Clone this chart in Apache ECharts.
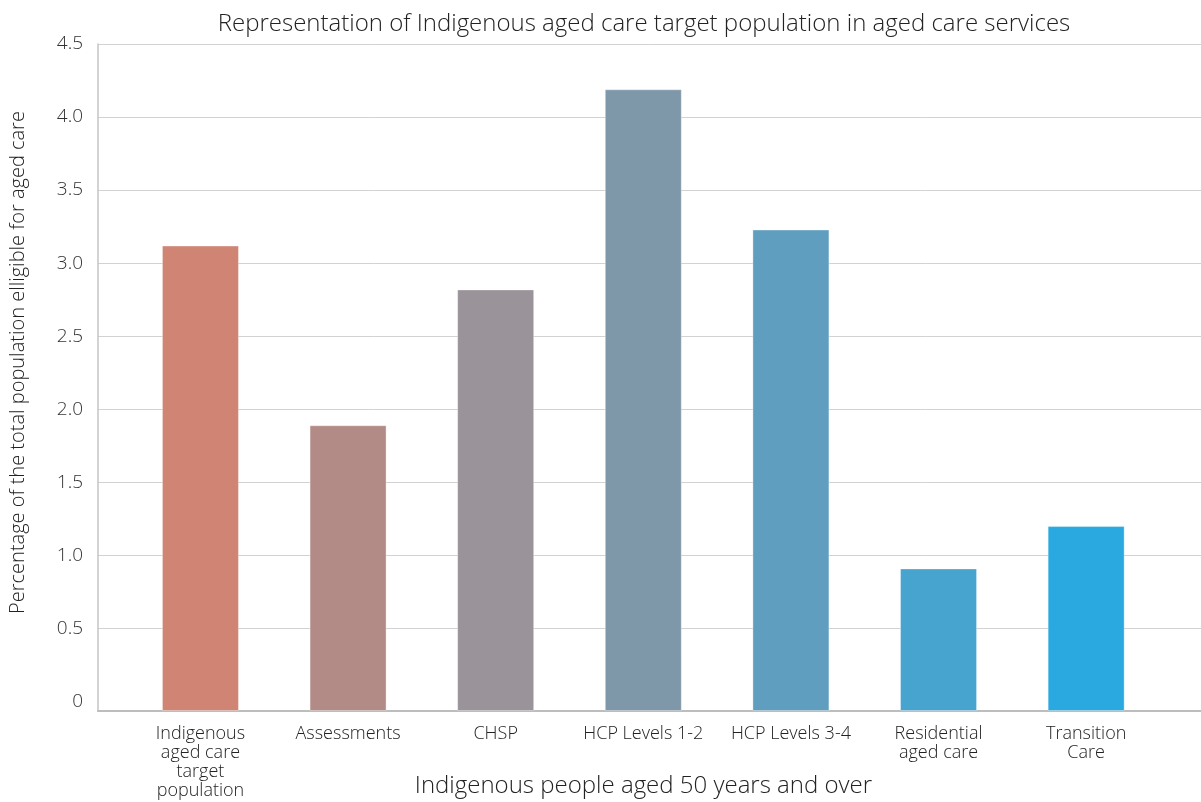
<!DOCTYPE html>
<html>
<head>
<meta charset="utf-8">
<script src="https://cdn.jsdelivr.net/npm/echarts@6/dist/echarts.min.js"></script>
<style>html,body{margin:0;padding:0;background:#fff}#c{width:1201px;height:802px}</style>
</head>
<body>
<div id="c"></div>
<script>
const categories = [
  'Indigenous\naged care\ntarget\npopulation',
  'Assessments',
  'CHSP',
  'HCP Levels 1-2',
  'HCP Levels 3-4',
  'Residential\naged care',
  'Transition\nCare'
];
const values = [3.12, 1.89, 2.82, 4.19, 3.23, 0.91, 1.20];
const barColors = ['#CF8474', '#B38B86', '#9A9399', '#7E97A9', '#5F9EBF', '#47A4CF', '#2AA9E0'];
const yTickValues = [0, 0.5, 1.0, 1.5, 2.0, 2.5, 3.0, 3.5, 4.0, 4.5];
const yTickLabels = ['0', '0.5', '1.0', '1.5', '2.0', '2.5', '3.0', '3.5', '4.0', '4.5'];
const yGridValues = yTickValues.filter(v => v > 0);
const categoryIndex = categories.map((c, i) => i);

const FONT = '"Open Sans", Lato, sans-serif';
const chart = echarts.init(document.getElementById('c'), null, {renderer: 'canvas'});
chart.setOption({
  backgroundColor: '#ffffff',
  animation: false,
  title: {
    text: 'Representation of Indigenous aged care target population in aged care services',
    left: 639, top: 7, textAlign: 'center',
    textStyle: {fontFamily: FONT, fontSize: 24, fontWeight: 300, color: '#222'}
  },
  grid: {left: 98, right: 0, top: 44, bottom: 91, containLabel: false, outerBoundsMode: 'none'},
  xAxis: {
    type: 'value',
    min: -0.694, max: 6.778,
    name: 'Indigenous people aged 50 years and over',
    nameLocation: 'middle', nameGap: 63, nameMoveOverlap: false,
    nameTextStyle: {fontFamily: FONT, fontSize: 24, fontWeight: 300, color: '#222', padding: [0, 12, 0, 0]},
    axisLine: {show: true, onZero: false, lineStyle: {color: '#bdbdbd', width: 2}},
    axisTick: {show: false, customValues: categoryIndex},
    splitLine: {show: false},
    axisLabel: {
      customValues: categoryIndex,
      margin: 13,
      fontFamily: FONT, fontSize: 18, fontWeight: 300, color: '#222', lineHeight: 19,
      formatter: v => categories[Math.round(v)]
    }
  },
  yAxis: {
    type: 'value',
    min: -0.066, max: 4.5, startValue: -0.066,
    name: 'Percentage of the total population elligible for aged care',
    nameLocation: 'middle', nameGap: 70, nameMoveOverlap: false,
    nameTextStyle: {fontFamily: FONT, fontSize: 20, fontWeight: 300, color: '#222', padding: [0, 0, 0, 30]},
    axisLine: {show: true, onZero: false, lineStyle: {color: '#c4c4c4', width: 1.5}},
    axisTick: {show: false, customValues: yGridValues},
    splitLine: {show: true, lineStyle: {color: '#d2d2d2', width: 1}},
    axisLabel: {
      customValues: yTickValues,
      margin: 15,
      fontFamily: FONT, fontSize: 19, fontWeight: 300, color: '#333',
      formatter: v => yTickLabels[yTickValues.findIndex(t => Math.abs(t - v) < 1e-6)]
    }
  },
  series: [{
    type: 'bar',
    barWidth: 77,
    data: values.map((v, i) => ({value: [i, v], itemStyle: {color: barColors[i]}})),
    itemStyle: {borderColor: 'rgba(255,255,255,0.35)', borderWidth: 1}
  }]
});
</script>
</body>
</html>
